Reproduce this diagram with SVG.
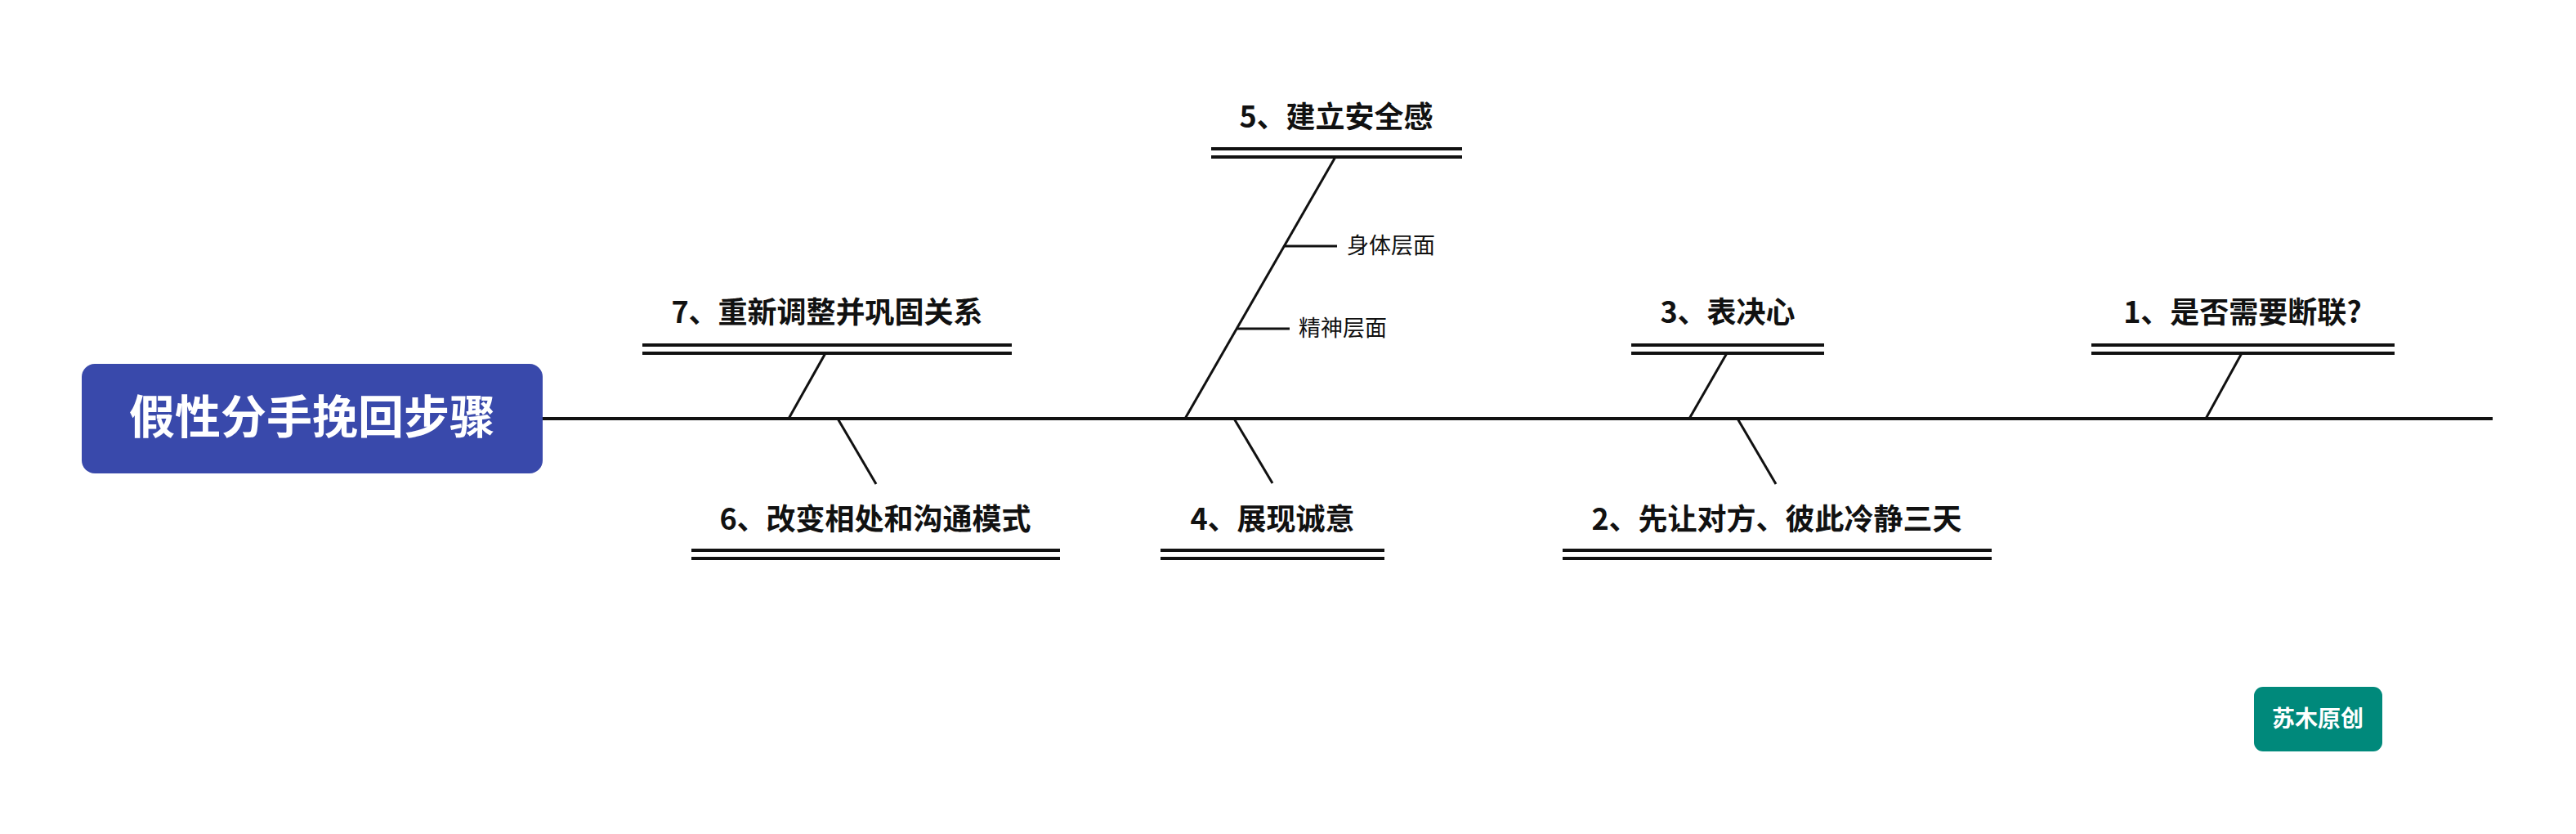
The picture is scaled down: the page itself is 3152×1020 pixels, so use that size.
<svg xmlns="http://www.w3.org/2000/svg" width="3152" height="1020" viewBox="0 0 3152 1020">
<style>
.bg{fill:#ffffff}
.ln{stroke:#111111;fill:none;stroke-linecap:butt}
.spine{stroke-width:4}
.bone{stroke-width:3}
.bar{stroke-width:4}
.lbl{font-family:"Noto Sans CJK SC","Noto Sans",sans-serif;font-weight:bold;font-size:36px;fill:#111111;text-anchor:middle}
.sub{font-family:"Noto Sans CJK SC","Noto Sans",sans-serif;font-size:27px;fill:#111111}
.title{font-family:"Noto Sans CJK SC","Noto Sans",sans-serif;font-weight:bold;font-size:56px;fill:#ffffff;text-anchor:middle}
.mark{font-family:"Noto Sans CJK SC","Noto Sans",sans-serif;font-weight:bold;font-size:28px;fill:#ffffff;text-anchor:middle}
</style>
<rect class="bg" x="0" y="0" width="3152" height="1020"/>
<g id="connectors">
<line class="ln spine" x1="663" y1="512" x2="3050" y2="512"/>
<line class="ln bone" x1="1010" y1="432" x2="965" y2="512"/>
<line class="ln bone" x1="1025" y1="512" x2="1072" y2="592"/>
<line class="ln bone" x1="1634" y1="192" x2="1450" y2="512"/>
<line class="ln bone" x1="1571" y1="301" x2="1636" y2="301"/>
<line class="ln bone" x1="1513" y1="402" x2="1578" y2="402"/>
<line class="ln bone" x1="1510" y1="512" x2="1557" y2="591"/>
<line class="ln bone" x1="2113" y1="432" x2="2067" y2="512"/>
<line class="ln bone" x1="2126" y1="512" x2="2173" y2="592"/>
<line class="ln bone" x1="2743" y1="432" x2="2699" y2="512"/>
</g>
<g id="root">
<rect x="100" y="445" width="564" height="134" rx="16" fill="#3949AB"/>
<text class="title" x="382" y="530">假性分手挽回步骤</text>
</g>
<g id="node1">
<text class="lbl" x="2744" y="395">1、是否需要断联?</text>
<line class="ln bar" x1="2559" y1="422" x2="2930" y2="422"/>
<line class="ln bar" x1="2559" y1="432" x2="2930" y2="432"/>
</g>
<g id="node2">
<text class="lbl" x="2174" y="648">2、先让对方、彼此冷静三天</text>
<line class="ln bar" x1="1912" y1="673" x2="2437" y2="673"/>
<line class="ln bar" x1="1912" y1="683" x2="2437" y2="683"/>
</g>
<g id="node3">
<text class="lbl" x="2114" y="395">3、表决心</text>
<line class="ln bar" x1="1996" y1="422" x2="2232" y2="422"/>
<line class="ln bar" x1="1996" y1="432" x2="2232" y2="432"/>
</g>
<g id="node4">
<text class="lbl" x="1557" y="648">4、展现诚意</text>
<line class="ln bar" x1="1420" y1="673" x2="1694" y2="673"/>
<line class="ln bar" x1="1420" y1="683" x2="1694" y2="683"/>
</g>
<g id="node5">
<text class="lbl" x="1635" y="156">5、建立安全感</text>
<line class="ln bar" x1="1482" y1="182" x2="1789" y2="182"/>
<line class="ln bar" x1="1482" y1="192" x2="1789" y2="192"/>
</g>
<g id="node5a">
<text class="sub" x="1648" y="310">身体层面</text>
</g>
<g id="node5b">
<text class="sub" x="1589" y="411">精神层面</text>
</g>
<g id="node6">
<text class="lbl" x="1071" y="648">6、改变相处和沟通模式</text>
<line class="ln bar" x1="846" y1="673" x2="1297" y2="673"/>
<line class="ln bar" x1="846" y1="683" x2="1297" y2="683"/>
</g>
<g id="node7">
<text class="lbl" x="1012" y="395">7、重新调整并巩固关系</text>
<line class="ln bar" x1="786" y1="422" x2="1238" y2="422"/>
<line class="ln bar" x1="786" y1="432" x2="1238" y2="432"/>
</g>
<g id="watermark">
<rect x="2758" y="840" width="157" height="79" rx="11" fill="#00897B"/>
<text class="mark" x="2836" y="889">苏木原创</text>
</g>
</svg>
